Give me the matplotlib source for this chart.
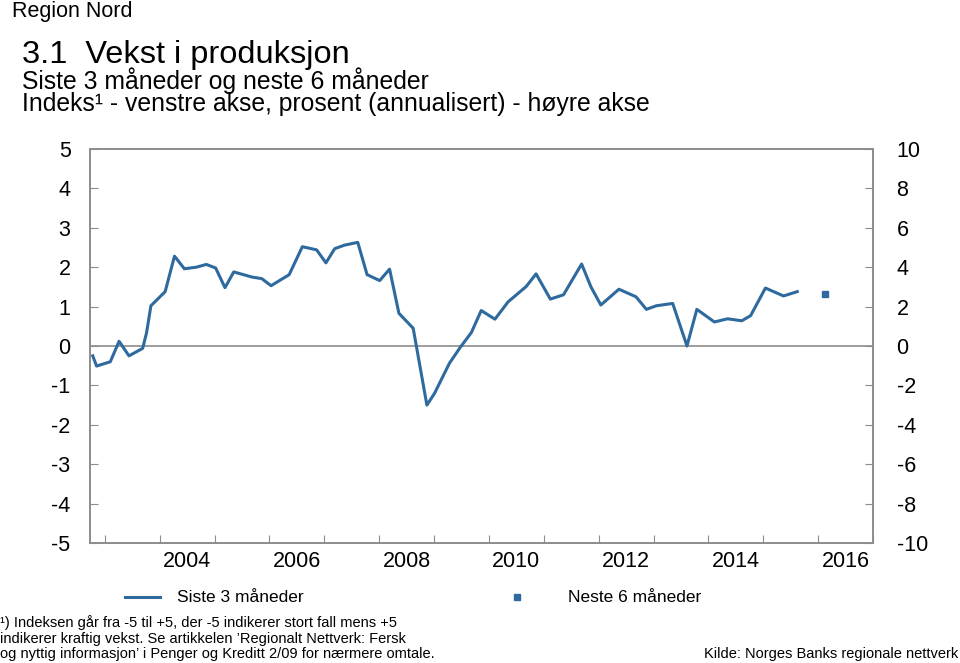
import matplotlib.pyplot as plt
import matplotlib.ticker as mticker
from matplotlib.lines import Line2D

plt.rcParams['font.family'] = ['Liberation Sans', 'DejaVu Sans']
plt.rcParams['axes.unicode_minus'] = False

# Siste 3 måneder (indeks, venstre akse), tidspunkt som desimalår
tid = [2002.78, 2002.85, 2003.10, 2003.26, 2003.44, 2003.69, 2003.76, 2003.84,
       2004.10, 2004.27, 2004.45, 2004.67, 2004.85, 2005.02, 2005.19, 2005.35,
       2005.68, 2005.86, 2006.03, 2006.36, 2006.60, 2006.86, 2007.03, 2007.19,
       2007.37, 2007.61, 2007.78, 2008.01, 2008.19, 2008.36, 2008.62, 2008.87,
       2009.01, 2009.28, 2009.47, 2009.68, 2009.86, 2010.11, 2010.35, 2010.68,
       2010.86, 2011.12, 2011.36, 2011.69, 2011.86, 2012.04, 2012.37, 2012.68,
       2012.87, 2013.05, 2013.35, 2013.61, 2013.79, 2014.11, 2014.35, 2014.61,
       2014.77, 2015.04, 2015.37, 2015.62]
siste3 = [-0.25, -0.51, -0.40, 0.12, -0.25, -0.06, 0.33, 1.02,
          1.38, 2.28, 1.96, 2.00, 2.07, 1.98, 1.48, 1.88,
          1.75, 1.71, 1.53, 1.81, 2.52, 2.44, 2.11, 2.47,
          2.56, 2.63, 1.81, 1.66, 1.95, 0.83, 0.45, -1.50,
          -1.20, -0.44, -0.05, 0.34, 0.90, 0.68, 1.12, 1.51,
          1.83, 1.19, 1.30, 2.08, 1.50, 1.04, 1.44, 1.25,
          0.93, 1.02, 1.08, 0.00, 0.93, 0.61, 0.69, 0.64,
          0.77, 1.47, 1.27, 1.38]

# Neste 6 måneder
tid_neste = [2016.13]
neste6 = [1.32]

farge = '#2f6a9e'
grå = '#8c8c8c'

fig = plt.figure(figsize=(9.6, 6.63), dpi=100)
ax = fig.add_axes([0.09375, 0.181, 0.8156, 0.5943])

ax.plot(tid, siste3, color=farge, lw=2.2, zorder=3)
ax.plot(tid_neste, neste6, ls='none', marker='s', ms=5, color=farge, zorder=3)
ax.axhline(0, color=grå, lw=1.2, zorder=2)

ax.set_xlim(2002.73, 2017.0)
ax.set_ylim(-5, 5)
ax.set_yticks(range(-5, 6))

ax.xaxis.set_major_locator(mticker.MultipleLocator(1))
ax.xaxis.set_major_formatter(mticker.NullFormatter())
ax.set_xticks([y + 0.5 for y in range(2004, 2017, 2)], minor=True)
ax.set_xticklabels([str(y) for y in range(2004, 2017, 2)], minor=True)
ax.tick_params(axis='x', which='major', direction='in', length=6, color=grå)
ax.tick_params(axis='x', which='minor', length=0, pad=6, labelsize=15.5)
ax.tick_params(axis='y', direction='in', length=6, color=grå, pad=14, labelsize=15.5)

for s in ax.spines.values():
    s.set_color(grå)
    s.set_linewidth(1.2)

ax2 = ax.twinx()
ax2.set_ylim(-10, 10)
ax2.set_yticks(range(-10, 11, 2))
ax2.tick_params(axis='y', direction='in', length=6, color=grå, pad=17, labelsize=15.5)
for s in ax2.spines.values():
    s.set_color(grå)
    s.set_linewidth(1.2)

# Titler
fig.text(0.0125, 0.9744, 'Region Nord', fontsize=15.5, va='baseline')
fig.text(0.023, 0.905, '3.1  Vekst i produksjon', fontsize=23.4, va='baseline')
fig.text(0.023, 0.8658, 'Siste 3 måneder og neste 6 måneder', fontsize=17.8, va='baseline')
fig.text(0.023, 0.8326, 'Indeks¹ - venstre akse, prosent (annualisert) - høyre akse',
         fontsize=17.8, va='baseline')

# Forklaring
fig.add_artist(Line2D([0.130, 0.167], [0.0995, 0.0995], color=farge, lw=2.2))
fig.text(0.184, 0.0995, 'Siste 3 måneder', fontsize=12.5, va='center')
fig.add_artist(Line2D([0.539], [0.0995], ls='none', marker='s', ms=5, color=farge))
fig.text(0.592, 0.0995, 'Neste 6 måneder', fontsize=12.5, va='center')

# Fotnote og kilde
fotnote = ['¹) Indeksen går fra -5 til +5, der -5 indikerer stort fall mens +5',
           'indikerer kraftig vekst. Se artikkelen \u2019Regionalt Nettverk: Fersk',
           'og nyttig informasjon\u2019 i Penger og Kreditt 2/09 for nærmere omtale.']
for i, linje in enumerate(fotnote):
    fig.text(0.0, 1 - (623 + 15.5 * i) / 663, linje, fontsize=10.5, va='center')
fig.text(0.998, 1 - 654 / 663, 'Kilde: Norges Banks regionale nettverk', fontsize=10.5,
         ha='right', va='center')

fig.savefig('out.png', dpi=100)
